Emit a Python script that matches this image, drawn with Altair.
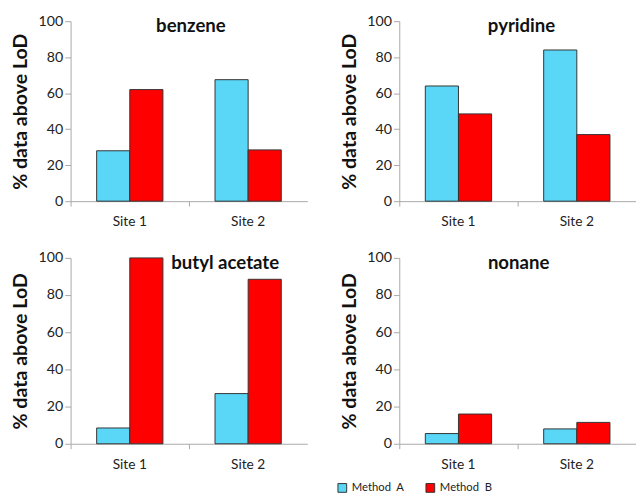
import altair as alt
import pandas as pd

sites = ["Site 1", "Site 2"]
methods = ["Method\u00a0\u00a0A", "Method\u00a0\u00a0B"]
compounds = ["benzene", "pyridine", "butyl acetate", "nonane"]
method_a = {"benzene": [28, 67.5], "pyridine": [64, 84], "butyl acetate": [8.5, 27], "nonane": [5.5, 8]}
method_b = {"benzene": [62, 28.5], "pyridine": [48.5, 37], "butyl acetate": [100, 88.5], "nonane": [16, 11.5]}
title_x = {"benzene": 123, "pyridine": 125, "butyl acetate": 158, "nonane": 122}
colors = ["#5AD6F7", "#FF0000"]

FONT = "Lato"
W = 242


def panel(name, h):
    rows = []
    for i, s in enumerate(sites):
        rows.append({"site": s, "method": methods[0], "value": method_a[name][i]})
        rows.append({"site": s, "method": methods[1], "value": method_b[name][i]})
    df = pd.DataFrame(rows)
    bars = alt.Chart(df).mark_bar(stroke="#333333", strokeWidth=1).encode(
        x=alt.X("site:N", sort=sites, title=None,
                scale=alt.Scale(paddingInner=0.44, paddingOuter=0.22),
                axis=alt.Axis(labelAngle=0, bandPosition=-0.39, tickSize=5,
                              labelPadding=9)),
        xOffset=alt.XOffset("method:N", sort=methods),
        y=alt.Y("value:Q", title="% data above LoD",
                scale=alt.Scale(domain=[0, 100]),
                axis=alt.Axis(values=[0, 20, 40, 60, 80, 100], grid=False,
                              tickSize=6, titlePadding=8)),
        color=alt.Color("method:N", sort=methods, title=None,
                        scale=alt.Scale(domain=methods, range=colors),
                        legend=alt.Legend(orient="none", legendX=272, legendY=471,
                                          direction="horizontal", symbolType="square",
                                          symbolSize=80, symbolStrokeColor="#333",
                                          symbolStrokeWidth=1, labelFontSize=11.5,
                                          labelColor="#222", columnPadding=20,
                                          labelFont=FONT)),
    )
    t = alt.Chart(pd.DataFrame({"t": [name]})).mark_text(
        font=FONT, fontSize=19, fontWeight="bold", color="#111",
        align="center", baseline="alphabetic"
    ).encode(text="t:N", x=alt.value(title_x[name]), y=alt.value(11))
    return alt.layer(bars, t).properties(width=W, height=h)


row1 = alt.hconcat(panel("benzene", 184), panel("pyridine", 184), spacing=32)
row2 = alt.hconcat(panel("butyl acetate", 190), panel("nonane", 190), spacing=32)
chart = alt.vconcat(row1, row2, spacing=22).properties(
    padding={"left": 2, "top": 0, "right": 0, "bottom": 0}
).configure_axis(
    domainColor="#a8a8a8", tickColor="#a8a8a8", labelColor="#222",
    labelFont=FONT, labelFontSize=14.5, titleFont=FONT, titleFontSize=20,
    titleFontWeight="bold", titleColor="#111"
).configure_axisX(labelFontSize=14).configure_view(stroke=None)

chart.save("out.html", embed_options={"renderer": "svg", "actions": False})
